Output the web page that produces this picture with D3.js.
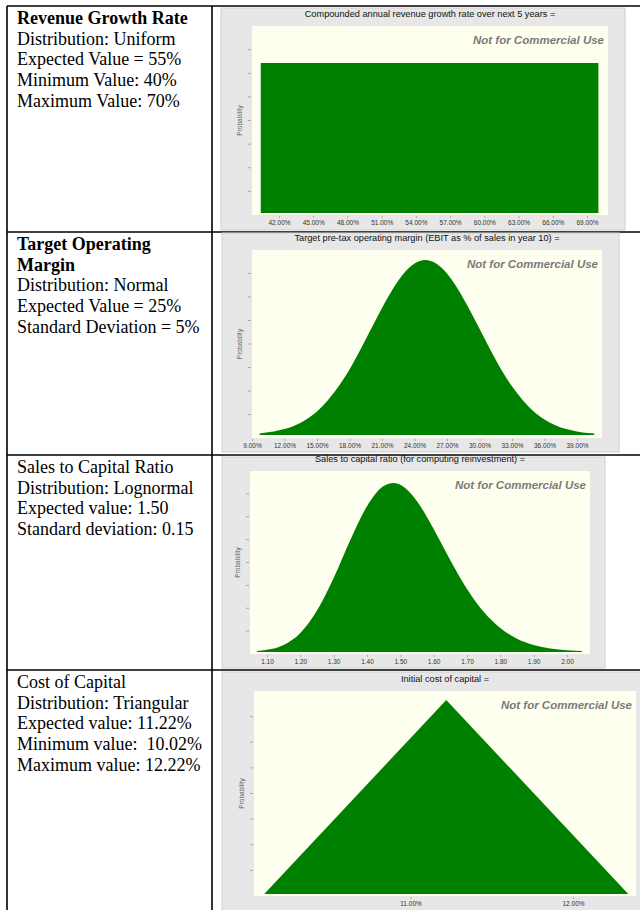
<!DOCTYPE html>
<html><head><meta charset="utf-8">
<script src="https://cdn.jsdelivr.net/npm/d3@7"></script>
<style>body{margin:0;background:#fff}svg{display:block}</style>
</head><body><svg id="c" width="640" height="910"></svg>
<script>
// ---------------- data ----------------
const leftText = [
  ["Revenue Growth Rate","Distribution: Uniform","Expected Value = 55%","Minimum Value: 40%","Maximum Value: 70%"],
  ["Target Operating","Margin","Distribution: Normal","Expected Value = 25%","Standard Deviation = 5%"],
  ["Sales to Capital Ratio","Distribution: Lognormal","Expected value: 1.50","Standard deviation: 0.15"],
  ["Cost of Capital","Distribution: Triangular","Expected value: 11.22%","Minimum value:  10.02%","Maximum value: 12.22%"]
];
const leftBoldLines = [1, 2, 0, 0];
const chartTitles = [
  "Compounded annual revenue growth rate over next 5 years =",
  "Target pre-tax operating margin (EBIT as % of sales in year 10) =",
  "Sales to capital ratio (for computing reinvestment) =",
  "Initial cost of capital ="
];
const watermark = "Not for Commercial Use";
const yAxisLabel = "Probability";

const growthTicks = [42,45,48,51,54,57,60,63,66,69];
const marginTicks = [9,12,15,18,21,24,27,30,33,36,39];
const salesTicks  = [1.1,1.2,1.3,1.4,1.5,1.6,1.7,1.8,1.9,2.0];
const costTicks   = [11,12];

const growthX = [40.4, 70.0];
const growthY = [1, 1];

const marginX = [9.7,10,11,12,13,14,15,16,17,18,19,20,21,22,23,24,25,26,27,28,29,30,31,32,33,34,35,36,37,38,39,40,40.6];
const marginY = [0.008,0.011,0.020,0.034,0.056,0.089,0.135,0.198,0.278,0.375,0.487,0.607,0.726,0.835,0.923,0.980,1.0,0.980,0.923,0.835,0.726,0.607,0.487,0.375,0.278,0.198,0.135,0.089,0.056,0.034,0.020,0.011,0.008];

const salesX = [1.07,1.10,1.15,1.20,1.25,1.30,1.35,1.40,1.45,1.48,1.50,1.55,1.60,1.65,1.70,1.75,1.80,1.85,1.90,1.95,2.00,2.045];
const salesY = [0.006,0.013,0.042,0.113,0.245,0.438,0.663,0.863,0.982,1.0,0.989,0.892,0.728,0.543,0.373,0.238,0.142,0.079,0.042,0.021,0.010,0.006];

const costX = [10.10, 11.22, 12.34];
const costY = [0, 1, 0];

// ---------------- layout ----------------
const svg = d3.select("#c");
svg.append("rect").attr("width",640).attr("height",910).attr("fill","#fff");

const rowTops = [6, 232, 455, 670];
// table lines
const tl = svg.append("g").attr("stroke","#000").attr("stroke-width",1.6);
tl.append("line").attr("x1",7).attr("x2",7).attr("y1",6).attr("y2",910);
tl.append("line").attr("x1",212).attr("x2",212).attr("y1",6).attr("y2",910);
rowTops.forEach(y => tl.append("line").attr("x1",7).attr("x2",640).attr("y1",y).attr("y2",y));

// left column text
leftText.forEach((lines, r) => {
  const g = svg.append("g");
  lines.forEach((t, i) => {
    g.append("text")
      .attr("x", 17)
      .attr("y", rowTops[r] + 18 + i * 20.7)
      .attr("font-family", "'Liberation Serif', serif")
      .attr("font-size", 18)
      .attr("font-weight", i < leftBoldLines[r] ? "bold" : "normal")
      .attr("fill", "#000")
      .style("white-space", "pre")
      .text(t);
  });
});

const charts = [
  {panel:[221,8,625,230], plot:[252,26,608,215], base:213, peak:63,
   dom:[42,69], rng:[279,587], ticks:growthTicks, fmt:d=>d3.format(".2f")(d)+"%",
   xs:growthX, ys:growthY, curve:d3.curveLinear},
  {panel:[222,233,619,452], plot:[252,250,602,438], base:435, peak:260,
   dom:[9,39], rng:[252,577], ticks:marginTicks, fmt:d=>d3.format(".2f")(d)+"%",
   xs:marginX, ys:marginY, curve:d3.curveMonotoneX},
  {panel:[222,457,605,668], plot:[250,471,590,654], base:652, peak:483,
   dom:[1.1,2.0], rng:[267,567], ticks:salesTicks, fmt:d3.format(".2f"),
   xs:salesX, ys:salesY, curve:d3.curveMonotoneX},
  {panel:[222,672,650,920], plot:[254,691,636,896], base:894, peak:700,
   dom:[11,12], rng:[410.5,573], ticks:costTicks, fmt:d=>d3.format(".2f")(d)+"%",
   xs:costX, ys:costY, curve:d3.curveLinear}
];

charts.forEach((c, k) => {
  const g = svg.append("g");
  const [px0,py0,px1,py1] = c.panel;
  const [qx0,qy0,qx1,qy1] = c.plot;
  g.append("rect").attr("x",px0).attr("y",py0).attr("width",px1-px0).attr("height",py1-py0)
    .attr("fill","#e7e7e7").attr("stroke","#cfcfcf").attr("stroke-width",1);
  g.append("rect").attr("x",qx0).attr("y",qy0).attr("width",qx1-qx0).attr("height",qy1-qy0)
    .attr("fill","#fffff0");

  const x = d3.scaleLinear().domain(c.dom).range(c.rng);
  const y = d3.scaleLinear().domain([0,1]).range([c.base, c.peak]);

  const pts = c.xs.map((v,i)=>[v, c.ys[i]]);
  const area = d3.area().x(d=>x(d[0])).y0(y(0)).y1(d=>y(d[1])).curve(c.curve);
  g.append("path").datum(pts).attr("d",area).attr("fill","#008000");

  // title
  g.append("text").attr("x",(qx0+qx1)/2).attr("y",qy0-11)
    .attr("text-anchor","middle").attr("dominant-baseline","middle")
    .attr("font-family","'Liberation Sans', Arial, sans-serif").attr("font-size",9.2)
    .attr("fill","#111").text(chartTitles[k]);
  // watermark
  g.append("text").attr("x",qx1-4).attr("y",qy0+15)
    .attr("text-anchor","end").attr("dominant-baseline","middle")
    .attr("font-family","'Liberation Sans', Arial, sans-serif").attr("font-size",11.5)
    .attr("font-style","italic").attr("font-weight","bold").attr("fill","#7a7a7a").text(watermark);
  // y label
  const cy = (qy0+qy1)/2;
  g.append("text").attr("transform",`translate(${qx0-12},${cy}) rotate(-90)`)
    .attr("text-anchor","middle").attr("dominant-baseline","middle")
    .attr("font-family","'Liberation Sans', Arial, sans-serif").attr("font-size",6.5)
    .attr("fill","#666").text(yAxisLabel);
  // y tick marks (8 divisions of plot height)
  const yt = d3.scaleLinear().domain([0,8]).range([qy1, qy0]);
  d3.range(1,8).forEach(i => {
    g.append("line").attr("x1",qx0-4).attr("x2",qx0-1).attr("y1",yt(i)).attr("y2",yt(i))
      .attr("stroke","#aaa").attr("stroke-width",1);
  });
  // x axis
  const ax = g.append("g").attr("transform",`translate(0,${qy1+1})`)
    .call(d3.axisBottom(x).tickValues(c.ticks).tickFormat(c.fmt).tickSize(2).tickPadding(2));
  ax.select(".domain").remove();
  ax.selectAll(".tick line").attr("stroke","#aaa");
  ax.selectAll(".tick text").attr("font-family","'Liberation Sans', Arial, sans-serif")
    .attr("font-size",6.5).attr("fill","#333");
});
</script></body></html>
